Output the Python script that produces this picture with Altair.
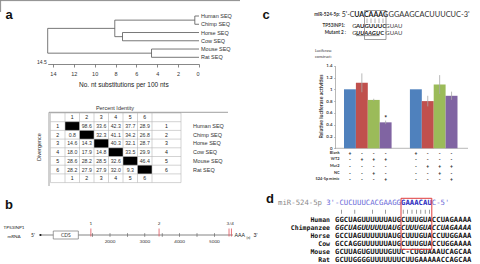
import altair as alt
import pandas as pd

SANS = "Liberation Sans"
CAL = "Lato"
MONO = "DejaVu Sans Mono"
INK = "#222222"
LINE = "#6a6a6a"

# ---------------- a: neighbour-joining tree of the 3'UTR ----------------
leaf_names = ["Human SEQ", "Chimp SEQ", "Horse SEQ", "Cow SEQ", "Mouse SEQ", "Rat SEQ"]
node_names = ["HC", "HoCo", "EU", "MuRa", "root"]
node_children = [["Human SEQ", "Chimp SEQ"], ["Horse SEQ", "Cow SEQ"], ["HC", "HoCo"],
                 ["Mouse SEQ", "Rat SEQ"], ["EU", "MuRa"]]
node_heights = [0.4, 7.33, 8.07, 4.55, 14.5]
distance_ticks = [14, 12, 10, 8, 6, 4, 2, 0]

# ---------------- a: percent identity (upper) / divergence (lower) ----------------
pair_rows = [
    [None, 98.6, 33.6, 42.3, 37.7, 28.9],
    [0.8, None, 32.3, 41.1, 34.2, 26.8],
    [14.6, 14.3, None, 40.3, 32.1, 28.7],
    [18.0, 17.9, 14.8, None, 33.5, 29.9],
    [28.6, 28.2, 28.5, 32.6, None, 46.4],
    [28.2, 27.9, 27.9, 32.0, 9.3, None],
]

# ---------------- b: TP53INP1 mRNA map ----------------
mrna_length = 5530
cds_start, cds_end = 370, 1090
site_positions = [1450, 3410, 5420, 5490]
site_labels = ["1", "2", "3/4"]
site_label_members = [[0], [1], [2, 3]]
mrna_ticks = [1500, 2000, 2500, 3000, 3500, 4000, 4500, 5000]
mrna_tick_labels = [2000, 3000, 4000, 5000]

# ---------------- c: luciferase reporter assay ----------------
reporters = ["WT2", "Mut2"]
conditions = ["Blank", "Reporter", "Reporter + NC", "Reporter + mimic"]
luc_values = [1.00, 1.11, 0.82, 0.44, 1.00, 0.80, 1.08, 0.89]
luc_errors = [0.00, 0.16, 0.02, 0.03, 0.00, 0.09, 0.16, 0.07]
luc_marks = ["", "", "", "*", "", "", "", ""]
bar_colors = ["#4F81BD", "#C0504D", "#9BBB59", "#8064A2"]
treatment_rows = ["Blank", "WT2", "Mut2", "NC", "524-5p mimic"]
luc_ticks = [0, 0.2, 0.4, 0.6, 0.8, 1.0, 1.2, 1.4]

# ---------------- d: seed-site conservation ----------------
mir_3to5 = "CUCUUUCACGAAGGGAAACAUC"
species = ["Human", "Chimpanzee", "Horse", "Cow", "Mouse", "Rat"]
utr_seqs = [
    "GGCUAGUUUUUUAUGCUUUGUACCUAGAAAA",
    "GGCUAGUUUUUUAUGCUUUGUACCUAGAAAA",
    "GCCUAGUUUUUUAUGCUUUGUACCUUGGAAA",
    "GCCAGGUUUUUUAUGCUUUGUACCUGGAAAA",
    "GCUUAGUGUUUUGUUC-CUGUAAAUCAGCAA",
    "GCUUGGGGUUUUUUUCUUGAAAAACCAGCAA",
]
seed_start, seed_end = 15, 22


def one_row():
    return alt.Chart(pd.DataFrame({"k": [0]}))


def label(s, x, y, size=6, font=SANS, weight="normal", color=INK, align="left",
          baseline="middle", angle=0, style="normal"):
    return one_row().mark_text(
        text=s, fontSize=size, font=font, fontWeight=weight, color=color, align=align,
        baseline=baseline, angle=angle, fontStyle=style,
    ).encode(x=alt.value(x), y=alt.value(y))


def hline(x1, x2, y, color=LINE, width=0.8):
    return one_row().mark_rule(color=color, strokeWidth=width).encode(
        x=alt.value(x1), x2=alt.value(x2), y=alt.value(y))


def vline(x, y1, y2, color=LINE, width=0.8):
    return one_row().mark_rule(color=color, strokeWidth=width).encode(
        x=alt.value(x), y=alt.value(y1), y2=alt.value(y2))


layers = []

# thin frame remnants along the top-left of panel a
layers.append(hline(0, 240, 0.6, color="#8c8c8c", width=1))
layers.append(vline(0.6, 0, 12, color="#8c8c8c", width=1))

# panel letters
for letter, lx, ly in [("a", 9, 15), ("b", 9, 205), ("c", 266, 15), ("d", 270, 199)]:
    layers.append(label(letter, lx, ly, size=13, weight="bold", color="#111", align="center"))

# ---- a: tree ----
height = {n: 0.0 for n in leaf_names}
ypos = {n: float(i) for i, n in enumerate(leaf_names)}
segs = []
for n, ch, h in zip(node_names, node_children, node_heights):
    height[n] = h
    ys = [ypos[c] for c in ch]
    ypos[n] = sum(ys) / len(ys)
    segs.append(dict(x=h, x2=h, y=min(ys), y2=max(ys)))
    for c in ch:
        segs.append(dict(x=height[c], x2=h, y=ypos[c], y2=ypos[c]))
seg_df = pd.DataFrame(segs)

tree_x = alt.Scale(domain=[0, 14.5], range=[199, 47.7], nice=False, zero=False)
tree_y = alt.Scale(domain=[0, 5], range=[16, 57.3], nice=False, zero=False)

layers.append(
    alt.Chart(seg_df).mark_rule(color="#555", strokeWidth=0.8).encode(
        x=alt.X("x:Q", scale=tree_x, axis=alt.Axis(
            orient="bottom", offset=-200, values=distance_ticks, grid=False,
            tickSize=3, tickColor=LINE, tickWidth=0.8, domainColor=LINE, domainWidth=0.8,
            labelFont=SANS, labelFontSize=5.5, labelColor="#333", labelPadding=4.5,
            title="No. nt substitutions per 100 nts", titleFont=SANS, titleFontSize=6.5,
            titleFontWeight="normal", titleColor=INK, titleY=20, titleBaseline="middle")),
        x2="x2:Q",
        y=alt.Y("y:Q", scale=tree_y, axis=None),
        y2="y2:Q",
    )
)
leaf_df = pd.DataFrame({"name": leaf_names, "d": [0.0] * 6, "i": list(range(6))})
layers.append(
    alt.Chart(leaf_df).mark_text(align="left", dx=2, fontSize=5.5, font=SANS, color="#333").encode(
        x=alt.X("d:Q", scale=tree_x, axis=None),
        y=alt.Y("i:Q", scale=tree_y, axis=None),
        text="name:N",
    )
)
root_df = pd.DataFrame({"h": [node_heights[-1]], "t": [f"{node_heights[-1]:.1f}"]})
layers.append(
    alt.Chart(root_df).mark_text(align="right", dx=-1, fontSize=5, font=SANS, color="#333").encode(
        x=alt.X("h:Q", scale=tree_x, axis=None), y=alt.value(62), text="t:N")
)

# ---- a: identity / divergence table ----
tab_x = alt.Scale(domain=[0, 6], range=[65, 152], nice=False, zero=False)
tab_y = alt.Scale(domain=[0, 8], range=[113, 182.6], nice=False, zero=False)
cells = []
for r, row in enumerate(pair_rows, start=1):
    for c, v in enumerate(row, start=1):
        cells.append(dict(row=r, col=c, cx=c - 0.5, cy=r + 0.5,
                          text="" if v is None else f"{v:.1f}", diag=v is None))
cell_df = pd.DataFrame(cells)
diag_df = cell_df[cell_df["diag"]].assign(x0=lambda d: d.col - 1, y0=lambda d: d.row)
layers.append(
    alt.Chart(diag_df).mark_rect(color="#000").encode(
        x=alt.X("x0:Q", scale=tab_x, axis=None), x2="col:Q",
        y=alt.Y("y0:Q", scale=tab_y, axis=None), y2="cy2:Q",
    ).transform_calculate(cy2="datum.row + 1")
)
layers.append(
    alt.Chart(cell_df[~cell_df["diag"]]).mark_text(fontSize=5.2, font=SANS, color="#333").encode(
        x=alt.X("cx:Q", scale=tab_x, axis=None), y=alt.Y("cy:Q", scale=tab_y, axis=None), text="text:N")
)
idx = list(range(1, 7))
hdr_rows = []
for i in idx:
    hdr_rows += [dict(x=i - 0.5, y=0.5, t=str(i)), dict(x=i - 0.5, y=7.5, t=str(i)),
                 dict(x=-0.5, y=i + 0.5, t=str(i)), dict(x=7.0, y=i + 0.5, t=str(i))]
layers.append(
    alt.Chart(pd.DataFrame(hdr_rows)).mark_text(fontSize=5.2, font=SANS, color="#222").encode(
        x=alt.X("x:Q", scale=tab_x, axis=None), y=alt.Y("y:Q", scale=tab_y, axis=None), text="t:N")
)
v_edges = pd.DataFrame({"e": [-1, 0, 1, 2, 3, 4, 5, 6, 8], "a": 0, "b": 8})
h_edges = pd.DataFrame({"e": list(range(9)), "a": -1, "b": 8})
layers.append(
    alt.Chart(v_edges).mark_rule(color="#b5b5b5", strokeWidth=0.6).encode(
        x=alt.X("e:Q", scale=tab_x, axis=None), y=alt.Y("a:Q", scale=tab_y, axis=None), y2="b:Q")
)
layers.append(
    alt.Chart(h_edges).mark_rule(color="#b5b5b5", strokeWidth=0.6).encode(
        y=alt.Y("e:Q", scale=tab_y, axis=None), x=alt.X("a:Q", scale=tab_x, axis=None), x2="b:Q")
)
layers.append(
    alt.Chart(pd.DataFrame({"name": leaf_names, "r": [i + 0.5 for i in idx]})).mark_text(
        align="left", fontSize=5.5, font=SANS, color="#333").encode(
        x=alt.value(193), y=alt.Y("r:Q", scale=tab_y, axis=None), text="name:N")
)
layers.append(hline(49, 228, 112.3, color="#888"))
layers.append(vline(49, 112.3, 186, color="#888"))
layers.append(label("Percent Identity", 115, 108, size=5.5, color="#333", align="center"))
layers.append(label("Divergence", 39, 147, size=5.5, color="#333", align="center", angle=270))

# ---- b: mRNA map ----
mrna_x = alt.Scale(domain=[0, mrna_length], range=[40.4, 40.4 + mrna_length * 0.0348],
                   nice=False, zero=False)
layers.append(
    alt.Chart(pd.DataFrame({"s": [0], "e": [mrna_length]})).mark_rule(color="#777", strokeWidth=0.9).encode(
        x=alt.X("s:Q", scale=mrna_x, axis=None), x2="e:Q", y=alt.value(235))
)
layers.append(
    alt.Chart(pd.DataFrame({"t": mrna_ticks})).mark_tick(color="#444", size=4, thickness=0.7).encode(
        x=alt.X("t:Q", scale=mrna_x, axis=None), y=alt.value(235))
)
layers.append(
    alt.Chart(pd.DataFrame({"t": mrna_tick_labels})).mark_text(fontSize=4.6, font=CAL, color="#333").encode(
        x=alt.X("t:Q", scale=mrna_x, axis=None), y=alt.value(241.8), text="t:N")
)
layers.append(
    alt.Chart(pd.DataFrame({"s": [cds_start], "e": [cds_end]})).mark_rect(
        fill="white", stroke="#777", strokeWidth=0.7).encode(
        x=alt.X("s:Q", scale=mrna_x, axis=None), x2="e:Q", y=alt.value(231), y2=alt.value(239))
)
layers.append(
    alt.Chart(pd.DataFrame({"m": [(cds_start + cds_end) / 2]})).mark_text(
        text="CDS", fontSize=5, font=CAL, color="#333").encode(
        x=alt.X("m:Q", scale=mrna_x, axis=None), y=alt.value(235.3))
)
layers.append(
    alt.Chart(pd.DataFrame({"p": site_positions})).mark_rule(color="#e0505a", strokeWidth=0.8).encode(
        x=alt.X("p:Q", scale=mrna_x, axis=None), y=alt.value(228.5), y2=alt.value(236.5))
)
site_lab_df = pd.DataFrame({
    "t": site_labels,
    "p": [sum(site_positions[j] for j in g) / len(g) for g in site_label_members],
})
layers.append(
    alt.Chart(site_lab_df).mark_text(fontSize=4.6, font=CAL, color="#333").encode(
        x=alt.X("p:Q", scale=mrna_x, axis=None), y=alt.value(224), text="t:N")
)
layers.append(
    alt.Chart(pd.DataFrame({"p": [0]})).mark_point(filled=True, size=5, color="#111", opacity=1).encode(
        x=alt.X("p:Q", scale=mrna_x, axis=None), y=alt.value(235))
)
layers.append(label("5'", 33, 235, size=5, font=CAL, color="#222", align="center"))
layers.append(label("TP53INP1", 14, 227.7, size=4.6, font=CAL, color="#222", align="center"))
layers.append(label("mRNA", 14, 236.7, size=4.6, font=CAL, color="#222", align="center"))
layers.append(label("AAA", 234.5, 235, size=5.2, font=CAL, color="#222"))
layers.append(label("(n)", 246.5, 237.5, size=3.6, font=CAL, color="#222"))
layers.append(label("3'", 253.5, 235, size=5.2, font=CAL, color="#222"))

# ---- c: sequences ----
layers.append(label("miR-524-5p:", 340, 15, size=4.6, font=CAL, weight="bold", color="#333", align="right"))
layers.append(label("5'-C", 341.7, 15, size=7, font=CAL, color="#333"))
layers.append(label("UACAAAG", 354.2, 15, size=7, font=CAL, weight="bold", color="#222"))
layers.append(label("GGAAGCACUUUCUC-3'", 388.6, 15, size=7.4, font=CAL, color="#333"))
layers.append(label("TP53INP1:", 345, 26, size=4.6, font=CAL, weight="bold", color="#333", align="right"))
layers.append(label("G", 352.2, 26, size=6, font=CAL, color="#333"))
layers.append(label("AUGUUUC", 356, 26, size=6, font=CAL, weight="bold", color="#222"))
layers.append(label("GUAU", 385.3, 26, size=6, font=CAL, color="#444"))
layers.append(label("Mutant 2 :", 346, 32.8, size=4.6, font=CAL, weight="bold", color="#333", align="right"))
layers.append(label("G", 352.2, 32.8, size=6, font=CAL, color="#333"))
layers.append(label("UUAAGU", 356, 32.8, size=6, font=CAL, weight="bold", style="italic", color="#222"))
layers.append(label("C", 380.3, 32.8, size=6, font=CAL, weight="bold", color="#222"))
layers.append(label("GUAU", 385.3, 32.8, size=6, font=CAL, color="#444"))
layers.append(hline(356, 379.5, 35.6, color="#333", width=0.5))
layers.append(
    one_row().mark_rect(fill=None, stroke="#777", strokeWidth=0.7).encode(
        x=alt.value(364.5), x2=alt.value(386), y=alt.value(10.5), y2=alt.value(39.5))
)
for px in [367, 371, 375, 379, 383]:
    layers.append(vline(px, 18.5, 23, color="#666", width=0.5))
layers.append(label("Luciferase", 315, 50.7, size=3.8, font=CAL, color="#333"))
layers.append(label("construct:", 315, 56.7, size=3.8, font=CAL, color="#333"))

# ---- c: bars ----
bar_df = pd.DataFrame({
    "reporter": [r for r in reporters for _ in conditions],
    "condition": conditions * len(reporters),
    "value": luc_values,
    "err": luc_errors,
    "mark": luc_marks,
})
bar_df["lo"] = bar_df["value"] - bar_df["err"]
bar_df["hi"] = bar_df["value"] + bar_df["err"]

grp_x = alt.Scale(domain=reporters, range=[344, 457.5], paddingInner=0.278, paddingOuter=0)
off_x = alt.Scale(domain=conditions, paddingInner=0, paddingOuter=0)
luc_y = alt.Scale(domain=[0, 1.4], range=[148.3, 65.7], nice=False, zero=False)

layers.append(hline(335, 468, 148.3, color="#999", width=0.7))
layers.append(
    alt.Chart(bar_df).mark_bar().encode(
        x=alt.X("reporter:N", scale=grp_x, axis=None),
        xOffset=alt.XOffset("condition:N", scale=off_x),
        y=alt.Y("value:Q", scale=luc_y, axis=alt.Axis(
            orient="left", offset=-335, values=luc_ticks, format=".1~f", grid=False,
            tickSize=1.5, tickColor="#999", domainColor="#999", domainWidth=0.7, tickWidth=0.6,
            labelFont=CAL, labelFontSize=4.4, labelFontWeight="bold", labelColor="#444", labelPadding=1.5,
            title="Relative luciferase activities", titleFont=CAL, titleFontSize=5.2,
            titleFontWeight="bold", titleColor="#333", titleX=-14.5, titleY=106,
            titleBaseline="middle")),
        y2=alt.Y2(datum=0),
        color=alt.Color("condition:N", scale=alt.Scale(domain=conditions, range=bar_colors), legend=None),
    )
)
layers.append(
    alt.Chart(bar_df[bar_df["err"] > 0]).mark_rule(color="#a8a8a8", strokeWidth=0.8).encode(
        x=alt.X("reporter:N", scale=grp_x, axis=None),
        xOffset=alt.XOffset("condition:N", scale=off_x),
        y=alt.Y("lo:Q", scale=luc_y, axis=None),
        y2="hi:Q",
    )
)
layers.append(
    alt.Chart(bar_df[bar_df["mark"] != ""]).mark_text(fontSize=7, fontWeight="bold", font=CAL, color="#222", dy=-1.5).encode(
        x=alt.X("reporter:N", scale=grp_x, axis=None),
        xOffset=alt.XOffset("condition:N", scale=off_x),
        y=alt.Y("hi:Q", scale=luc_y, axis=None),
        text="mark:N",
    )
)

# treatment grid under the bars
sign_rows = []
for _, b in bar_df.iterrows():
    on = {
        "Blank": b.condition == "Blank",
        "WT2": b.reporter == "WT2" and b.condition != "Blank",
        "Mut2": b.reporter == "Mut2" and b.condition != "Blank",
        "NC": b.condition == "Reporter + NC",
        "524-5p mimic": b.condition == "Reporter + mimic",
    }
    for t in treatment_rows:
        sign_rows.append(dict(reporter=b.reporter, condition=b.condition, treatment=t,
                              sign="+" if on[t] else "-"))
sign_df = pd.DataFrame(sign_rows)
treat_y = alt.Scale(type="point", domain=treatment_rows, range=[152.5, 179.3], padding=0)
layers.append(
    alt.Chart(sign_df).mark_text(fontSize=5, fontWeight="bold", font=CAL, color="#222").encode(
        x=alt.X("reporter:N", scale=grp_x, axis=None),
        xOffset=alt.XOffset("condition:N", scale=off_x),
        y=alt.Y("treatment:N", scale=treat_y, axis=None),
        text="sign:N",
    )
)
layers.append(
    alt.Chart(pd.DataFrame({"treatment": treatment_rows})).mark_text(
        align="right", fontSize=3.9, fontWeight="bold", font=CAL, color="#333").encode(
        x=alt.value(339.5), y=alt.Y("treatment:N", scale=treat_y, axis=None), text="treatment:N")
)

# ---- d: alignment ----
seq_x = alt.Scale(domain=[0, 31], range=[335, 471.4], nice=False, zero=False)
row_y = alt.Scale(type="point", domain=species, range=[219.8, 260.2], padding=0)

mir_line = "3'-" + mir_3to5 + "-5'"
mir_chars = pd.DataFrame({"c": list(mir_line), "i": [k - 2 + 0.5 for k in range(len(mir_line))]})
mir_chars["seed"] = [(seed_start <= k - 2 < seed_end) for k in range(len(mir_line))]
for is_seed, weight, col in [(False, "normal", "#6a6ad8"), (True, "bold", "#2d2dbf")]:
    layers.append(
        alt.Chart(mir_chars[mir_chars["seed"] == is_seed]).mark_text(
            fontSize=7.3, font=MONO, fontWeight=weight, color=col).encode(
            x=alt.X("i:Q", scale=seq_x, axis=None), y=alt.value(202.7), text="c:N")
    )
layers.append(label("miR-524-5p", 322, 202.7, size=7.3, font=MONO, color="#8a8a8a", align="right"))

pairs = {("A", "U"), ("U", "A"), ("G", "C"), ("C", "G")}
pair_idx = [k + 1 for k, m in enumerate(mir_3to5) if (m, utr_seqs[0][k + 1]) in pairs]
layers.append(
    alt.Chart(pd.DataFrame({"i": [p + 0.5 for p in pair_idx]})).mark_tick(
        color="#333", size=4, thickness=0.7).encode(
        x=alt.X("i:Q", scale=seq_x, axis=None), y=alt.value(211.7))
)

seq_rows = []
for sp, s in zip(species, utr_seqs):
    for k, ch in enumerate(s):
        seq_rows.append(dict(species=sp, i=k + 0.5, c=ch, italic=sp == "Chimpanzee"))
seq_df = pd.DataFrame(seq_rows)
for it in [False, True]:
    layers.append(
        alt.Chart(seq_df[seq_df["italic"] == it]).mark_text(
            fontSize=7.2, font=MONO, fontWeight="bold", fontStyle="italic" if it else "normal",
            color="#111").encode(
            x=alt.X("i:Q", scale=seq_x, axis=None),
            y=alt.Y("species:N", scale=row_y, axis=None),
            text="c:N")
    )
layers.append(
    alt.Chart(pd.DataFrame({"species": species})).mark_text(
        align="right", fontSize=6.5, font=MONO, fontWeight="bold", color="#111").encode(
        x=alt.value(330), y=alt.Y("species:N", scale=row_y, axis=None), text="species:N")
)
layers.append(
    alt.Chart(pd.DataFrame({"a": [seed_start], "b": [seed_end]})).mark_rect(
        fill=None, stroke="#e03c3c", strokeWidth=1).encode(
        x=alt.X("a:Q", scale=seq_x, axis=None), x2="b:Q", y=alt.value(198.3), y2=alt.value(249.3))
)

chart = alt.layer(*layers).resolve_scale(x="independent", y="independent").properties(
    width=480, height=264, padding=0, background="white",
    autosize=alt.AutoSizeParams(type="none"),
).configure_view(stroke=None)

chart.save("out.html", embed_options={"renderer": "svg", "actions": False})
